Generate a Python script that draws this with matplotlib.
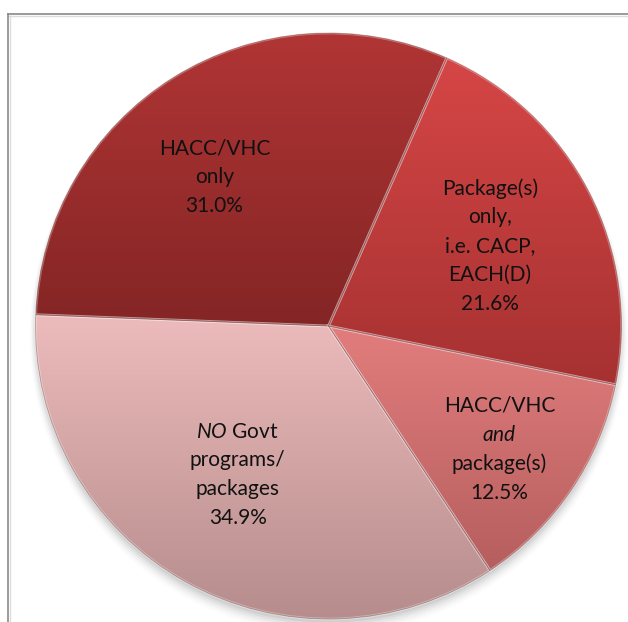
import numpy as np
import matplotlib
matplotlib.use("Agg")
import matplotlib.pyplot as plt
from matplotlib.colors import LinearSegmentedColormap
from matplotlib.lines import Line2D
from matplotlib.patches import Wedge

# Data (clockwise from the upper-right boundary)
categories = [
    "Package(s)\nonly,\ni.e. CACP,\nEACH(D)",
    "HACC/VHC\n$\\mathit{and}$\npackage(s)",
    "$\\mathit{NO}$ Govt\nprograms/\npackages",
    "HACC/VHC\nonly",
]
shares = [21.6, 12.5, 34.9, 31.0]

# Per-slice gradient colours (top, bottom)
top_colors = ["#D64646", "#E27D7D", "#EDBBBB", "#B13535"]
bottom_colors = ["#A63131", "#B65E5E", "#B68C8C", "#842525"]
# Label placement: radial fraction and angular nudge (degrees)
label_r = [0.615, 0.72, 0.595, 0.64]
label_dtheta = [-0.9, -1.8, -2.0, 5.5]

plt.rcParams["font.family"] = ["Lato", "DejaVu Sans"]
plt.rcParams["mathtext.fontset"] = "custom"
plt.rcParams["mathtext.rm"] = "Lato"
plt.rcParams["mathtext.it"] = "Lato:italic"

W, H = 628, 622
fig = plt.figure(figsize=(W / 100, H / 100), dpi=100)
fig.patch.set_facecolor("white")

cx, cy, R = 328.5, 326.0, 293.0
ax = fig.add_axes([(cx - R) / W, (H - cy - R) / H, 2 * R / W, 2 * R / H])
ax.set_xlim(-1, 1)
ax.set_ylim(-1, 1)
ax.axis("off")

# Chart-area frame (top and left edges visible)
fy = 1 - 14 / H
fx = 8 / W
fig.add_artist(Line2D([fx, 1.01], [fy, fy], transform=fig.transFigure, color="#8a8a8a", lw=1.2))
fig.add_artist(Line2D([fx, 1.01], [fy - 1.5 / H, fy - 1.5 / H], transform=fig.transFigure, color="#dcdcdc", lw=1.0))
fig.add_artist(Line2D([fx, fx], [-0.01, fy], transform=fig.transFigure, color="#8a8a8a", lw=1.2))
fig.add_artist(Line2D([fx + 1.5 / W, fx + 1.5 / W], [-0.01, fy - 1.5 / H], transform=fig.transFigure, color="#dcdcdc", lw=1.0))

# Soft shadow under the pie
for i, a in enumerate(np.linspace(0.05, 0.012, 6)):
    sh = Wedge((0.0, -0.012 - 0.004 * i), 1.0 + 0.004 * i, 0, 360, facecolor="black",
               alpha=a, edgecolor="none", zorder=0, clip_on=False)
    ax.add_patch(sh)

wedges, _ = ax.pie(shares, startangle=66.2, counterclock=False, radius=1.0,
                   wedgeprops=dict(edgecolor="none", linewidth=0))

for i, w in enumerate(wedges):
    w.set_facecolor("none")
    w.set_clip_on(False)
    # vertical extent of the wedge
    t1, t2 = np.deg2rad(w.theta1), np.deg2rad(w.theta2)
    ts = np.linspace(t1, t2, 200)
    ys = np.concatenate([np.sin(ts), [0.0]])
    ymin, ymax = ys.min(), ys.max()
    cmap = LinearSegmentedColormap.from_list(f"g{i}", [bottom_colors[i], top_colors[i]])
    grad = np.linspace(0, 1, 256).reshape(-1, 1)
    im = ax.imshow(grad, cmap=cmap, origin="lower", extent=(-1, 1, ymin, ymax),
                   aspect="auto", zorder=1, interpolation="bilinear")
    im.set_clip_path(w)
    im.set_clip_on(True)

    # bevel: light inner edge and darker outline
    bev = Wedge((0, 0), 1.0, w.theta1, w.theta2, facecolor="none",
                edgecolor=(1, 1, 1, 0.3), linewidth=2.0, zorder=2, clip_on=False)
    ax.add_patch(bev)
    rim = Wedge((0, 0), 1.0, w.theta1, w.theta2, facecolor="none",
                edgecolor=(0.35, 0.1, 0.1, 0.35), linewidth=0.6, zorder=3, clip_on=False)
    ax.add_patch(rim)

    mid = np.deg2rad((w.theta1 + w.theta2) / 2 + label_dtheta[i])
    r = label_r[i]
    ax.text(r * np.cos(mid), r * np.sin(mid), f"{categories[i]}\n{shares[i]:.1f}%",
            ha="center", va="center", fontsize=15, color="#111111",
            linespacing=1.55, zorder=5)

ax.set_xlim(-1, 1)
ax.set_ylim(-1, 1)
fig.savefig("out.png", dpi=100, facecolor="white")
